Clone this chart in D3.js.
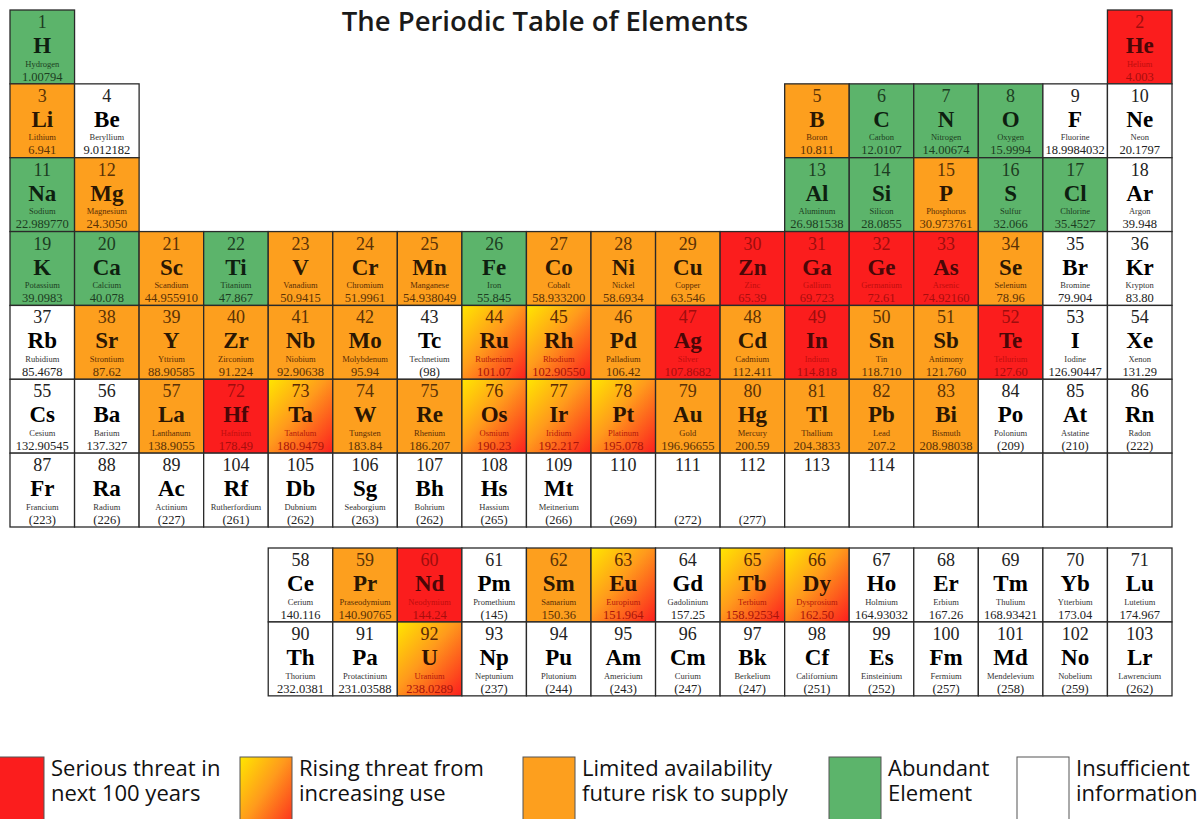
<!DOCTYPE html>
<html>
<head>
<meta charset="utf-8">
<script src="https://cdn.jsdelivr.net/npm/d3@7"></script>
<style>
  body { margin: 0; background: #fff; }
  svg { display: block; }
</style>
</head>
<body>
<svg id="chart"></svg>
<script>
// Element data, in atomic-number order (1..118)
const symbols = ["H","He","Li","Be","B","C","N","O","F","Ne",
  "Na","Mg","Al","Si","P","S","Cl","Ar",
  "K","Ca","Sc","Ti","V","Cr","Mn","Fe","Co","Ni","Cu","Zn","Ga","Ge","As","Se","Br","Kr",
  "Rb","Sr","Y","Zr","Nb","Mo","Tc","Ru","Rh","Pd","Ag","Cd","In","Sn","Sb","Te","I","Xe",
  "Cs","Ba","La","Ce","Pr","Nd","Pm","Sm","Eu","Gd","Tb","Dy","Ho","Er","Tm","Yb","Lu",
  "Hf","Ta","W","Re","Os","Ir","Pt","Au","Hg","Tl","Pb","Bi","Po","At","Rn",
  "Fr","Ra","Ac","Th","Pa","U","Np","Pu","Am","Cm","Bk","Cf","Es","Fm","Md","No","Lr",
  "Rf","Db","Sg","Bh","Hs","Mt","","","","","","","","",""];

const names = ["Hydrogen","Helium","Lithium","Beryllium","Boron","Carbon","Nitrogen","Oxygen","Fluorine","Neon",
  "Sodium","Magnesium","Aluminum","Silicon","Phosphorus","Sulfur","Chlorine","Argon",
  "Potassium","Calcium","Scandium","Titanium","Vanadium","Chromium","Manganese","Iron","Cobalt","Nickel","Copper","Zinc","Gallium","Germanium","Arsenic","Selenium","Bromine","Krypton",
  "Rubidium","Strontium","Yttrium","Zirconium","Niobium","Molybdenum","Technetium","Ruthenium","Rhodium","Palladium","Silver","Cadmium","Indium","Tin","Antimony","Tellurium","Iodine","Xenon",
  "Cesium","Barium","Lanthanum","Cerium","Praseodymium","Neodymium","Promethium","Samarium","Europium","Gadolinium","Terbium","Dysprosium","Holmium","Erbium","Thulium","Ytterbium","Lutetium",
  "Hafnium","Tantalum","Tungsten","Rhenium","Osmium","Iridium","Platinum","Gold","Mercury","Thallium","Lead","Bismuth","Polonium","Astatine","Radon",
  "Francium","Radium","Actinium","Thorium","Protactinium","Uranium","Neptunium","Plutonium","Americium","Curium","Berkelium","Californium","Einsteinium","Fermium","Mendelevium","Nobelium","Lawrencium",
  "Rutherfordium","Dubnium","Seaborgium","Bohrium","Hassium","Meitnerium","","","","","","","","",""];

const weights = ["1.00794","4.003","6.941","9.012182","10.811","12.0107","14.00674","15.9994","18.9984032","20.1797",
  "22.989770","24.3050","26.981538","28.0855","30.973761","32.066","35.4527","39.948",
  "39.0983","40.078","44.955910","47.867","50.9415","51.9961","54.938049","55.845","58.933200","58.6934","63.546","65.39","69.723","72.61","74.92160","78.96","79.904","83.80",
  "85.4678","87.62","88.90585","91.224","92.90638","95.94","(98)","101.07","102.90550","106.42","107.8682","112.411","114.818","118.710","121.760","127.60","126.90447","131.29",
  "132.90545","137.327","138.9055","140.116","140.90765","144.24","(145)","150.36","151.964","157.25","158.92534","162.50","164.93032","167.26","168.93421","173.04","174.967",
  "178.49","180.9479","183.84","186.207","190.23","192.217","195.078","196.96655","200.59","204.3833","207.2","208.98038","(209)","(210)","(222)",
  "(223)","(226)","(227)","232.0381","231.03588","238.0289","(237)","(244)","(243)","(247)","(247)","(251)","(252)","(257)","(258)","(259)","(262)",
  "(261)","(262)","(263)","(262)","(265)","(266)","(269)","(272)","(277)","","","","","",""];

// Supply risk per element: R serious, X rising, O limited, G abundant, W insufficient
const threatByPeriod = [
  "GR",
  "OWOGGGWW",
  "GOGGOGGW",
  "GGOGOOOGOOORRRROWW",
  "WOOOOOWXXOROROORWW",
  "WWO" + "WORWOXWXXWWWWW" + "RXOOXXXOOOOOWWW",
  "WWW" + "WWXWWWWWWWWWWW" + "WWWWWWWWWWWWWWW"
];
const threat = threatByPeriod.join("").split("");

// Legend
const legendKeys = ["R", "X", "O", "G", "W"];
const legendLabels = [
  ["Serious threat in", "next 100 years"],
  ["Rising threat from", "increasing use"],
  ["Limited availability", "future risk to supply"],
  ["Abundant", "Element"],
  ["Insufficient", "information"]
];

const title = "The Periodic Table of Elements";

// ---------------------------------------------------------------
const width = 1203, height = 819;

const svg = d3.select("#chart")
  .attr("width", width)
  .attr("height", height);

svg.append("rect").attr("width", width).attr("height", height).attr("fill", "#fff");

const defs = svg.append("defs");
const grad = defs.append("linearGradient")
  .attr("id", "rising")
  .attr("x1", 0).attr("y1", 0).attr("x2", 1).attr("y2", 1);
grad.append("stop").attr("offset", "0%").attr("stop-color", "#ffe600");
grad.append("stop").attr("offset", "45%").attr("stop-color", "#ff9a1c");
grad.append("stop").attr("offset", "100%").attr("stop-color", "#fc1e1e");

const styles = {
  R: { fill: "#fb1d1d", num: "#9e0d0d", sym: "#4a0707", name: "#bf0d0d", wt: "#a80d0d" },
  X: { fill: "url(#rising)", num: "#5a2a05", sym: "#2e1203", name: "#b3180c", wt: "#a8140b" },
  O: { fill: "#fd9f1e", num: "#5a3206", sym: "#2b1703", name: "#5a2d05", wt: "#5a3206" },
  G: { fill: "#5cb46b", num: "#1d3d22", sym: "#0e1f10", name: "#1d3d22", wt: "#1d3d22" },
  W: { fill: "#ffffff", num: "#222", sym: "#000", name: "#333", wt: "#222" }
};

// Scales: groups across, periods down, f-block below
const x = d3.scaleBand().domain(d3.range(1, 19)).range([10, 1172]);
const y = d3.scaleBand().domain(d3.range(1, 8)).range([10, 527]);
const yF = d3.scaleBand().domain(["La", "Ac"]).range([548, 696]);

// period / group from atomic number
function place(z) {
  if (z === 1) return { row: 1, col: 1 };
  if (z === 2) return { row: 1, col: 18 };
  if (z <= 4) return { row: 2, col: z - 2 };
  if (z <= 10) return { row: 2, col: z + 8 };
  if (z <= 12) return { row: 3, col: z - 10 };
  if (z <= 18) return { row: 3, col: z };
  if (z <= 36) return { row: 4, col: z - 18 };
  if (z <= 54) return { row: 5, col: z - 36 };
  if (z <= 57) return { row: 6, col: z - 54 };
  if (z <= 71) return { row: "La", col: z - 53 };
  if (z <= 86) return { row: 6, col: z - 68 };
  if (z <= 89) return { row: 7, col: z - 86 };
  if (z <= 103) return { row: "Ac", col: z - 85 };
  return { row: 7, col: z - 100 };
}

const elements = symbols.map((s, i) => {
  const z = i + 1;
  const p = place(z);
  return {
    z, symbol: s, name: names[i], weight: weights[i], threat: threat[i],
    x: x(p.col),
    y: typeof p.row === "number" ? y(p.row) : yF(p.row)
  };
});

const cw = x.bandwidth(), ch = y.bandwidth();

const cells = svg.append("g").selectAll("g")
  .data(elements)
  .enter()
  .append("g")
  .attr("transform", d => `translate(${d.x},${d.y})`);

cells.append("rect")
  .attr("width", cw)
  .attr("height", ch)
  .attr("fill", d => styles[d.threat].fill)
  .attr("stroke", "#2a2a2a")
  .attr("stroke-width", 1.3);

const serif = "'Liberation Serif', 'Times New Roman', serif";

// atomic number
cells.filter(d => d.z <= 114)
  .append("text")
  .attr("x", cw / 2).attr("y", 18)
  .attr("text-anchor", "middle")
  .attr("font-family", serif).attr("font-size", 18)
  .attr("fill", d => styles[d.threat].num)
  .text(d => d.z);

// symbol
cells.append("text")
  .attr("x", cw / 2).attr("y", 43)
  .attr("text-anchor", "middle")
  .attr("font-family", serif).attr("font-size", 23).attr("font-weight", "bold")
  .attr("fill", d => styles[d.threat].sym)
  .text(d => d.symbol);

// name
cells.append("text")
  .attr("x", cw / 2).attr("y", 56.5)
  .attr("text-anchor", "middle")
  .attr("font-family", serif).attr("font-size", 8.5)
  .attr("fill", d => styles[d.threat].name)
  .text(d => d.name);

// atomic weight
cells.append("text")
  .attr("x", cw / 2).attr("y", 70.5)
  .attr("text-anchor", "middle")
  .attr("font-family", serif).attr("font-size", 12.5)
  .attr("fill", d => styles[d.threat].wt)
  .text(d => d.weight);

// Title
svg.append("text")
  .attr("x", 545).attr("y", 31)
  .attr("text-anchor", "middle")
  .attr("font-family", "'Open Sans', 'Noto Sans', sans-serif")
  .attr("font-size", 27.5).attr("font-weight", 600)
  .attr("fill", "#1a1a1a")
  .text(title);

// Legend
const legendX = [-8, 240, 523, 829, 1017];
const legend = svg.append("g").selectAll("g")
  .data(legendKeys)
  .enter()
  .append("g")
  .attr("transform", (d, i) => `translate(${legendX[i]},757)`);

legend.append("rect")
  .attr("width", 52).attr("height", 80)
  .attr("fill", d => styles[d].fill)
  .attr("stroke", "#555").attr("stroke-width", 1);

legend.each(function (d, i) {
  const t = d3.select(this).append("text")
    .attr("font-family", "'Open Sans', 'Noto Sans', sans-serif")
    .attr("font-size", 22)
    .attr("fill", "#111");
  legendLabels[i].forEach((line, j) => {
    t.append("tspan").attr("x", 59).attr("y", 19 + j * 25).text(line);
  });
});
</script>
</body>
</html>
